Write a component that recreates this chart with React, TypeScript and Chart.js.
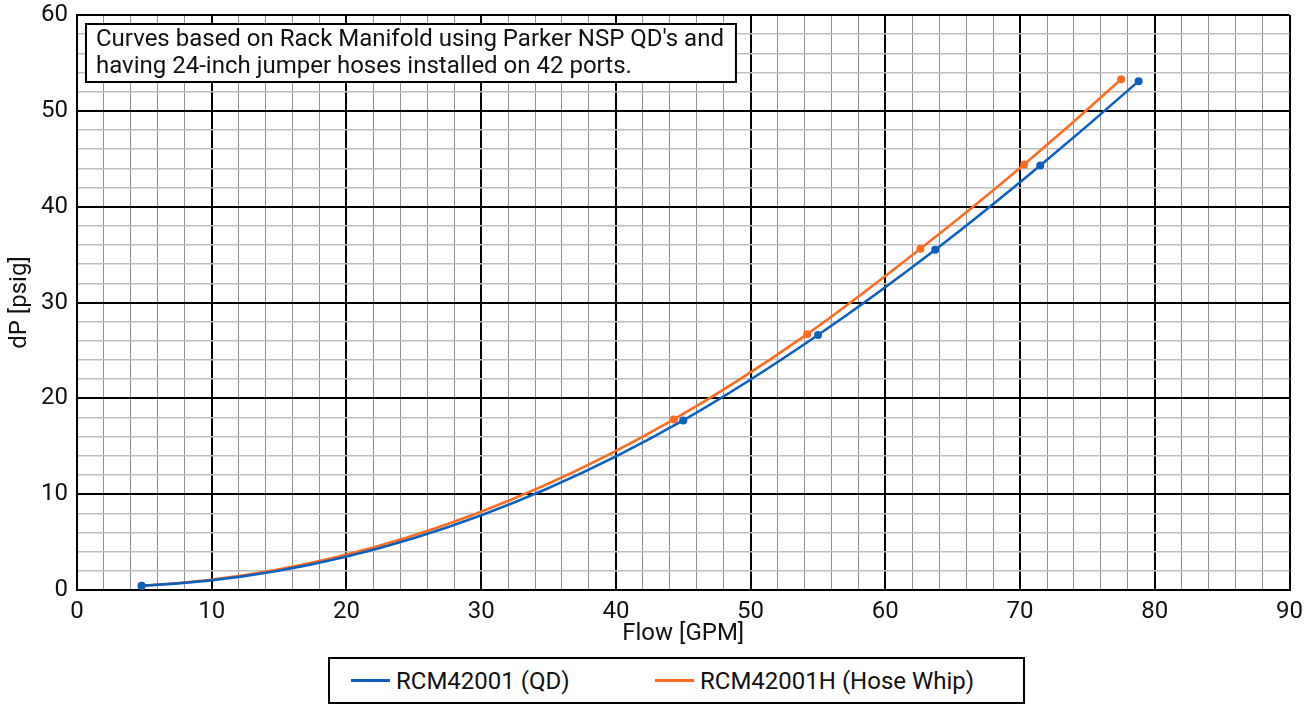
import React, { useEffect, useRef } from "react";
import { Chart, registerables } from "chart.js";

Chart.register(...registerables);

// ---- data ----
const qdFlow = [4.8, 45.0, 55.0, 63.7, 71.5, 78.8];
const qdDp = [0.45, 17.7, 26.6, 35.5, 44.3, 53.1];
const hwFlow = [4.8, 44.3, 54.2, 62.6, 70.3, 77.5];
const hwDp = [0.45, 17.8, 26.7, 35.6, 44.4, 53.3];

const seriesLabels = ["RCM42001 (QD)", "RCM42001H (Hose Whip)"];
const seriesColors = ["#0B5FBF", "#FF6B1F"];

const noteLines = [
  "Curves based on Rack Manifold using Parker NSP QD's and",
  "having 24-inch jumper hoses installed on 42 ports.",
];

const xTitle = "Flow [GPM]";
const yTitle = "dP [psig]";
const xMin = 0, xMax = 90, yMin = 0, yMax = 60;
const minorStep = 2, majorStep = 10;

const FONT = "Roboto";
const FS = 24;

// tangents for a smooth curve through the read points (3-point parabolic estimates)
function tangents(xs: number[], ys: number[]): number[] {
  const n = xs.length;
  const h: number[] = [];
  const d: number[] = [];
  for (let i = 0; i < n - 1; i++) {
    h.push(xs[i + 1] - xs[i]);
    d.push((ys[i + 1] - ys[i]) / h[i]);
  }
  const m: number[] = new Array(n).fill(0);
  if (n === 2) return [d[0], d[0]];
  for (let i = 1; i < n - 1; i++) {
    m[i] = (h[i] * d[i - 1] + h[i - 1] * d[i]) / (h[i - 1] + h[i]);
  }
  m[0] = d[0] - (h[0] * (d[1] - d[0])) / (h[0] + h[1]);
  const k = n - 2;
  m[n - 1] = d[k] + (h[k] * (d[k] - d[k - 1])) / (h[k - 1] + h[k]);
  return m;
}

const smoothPlugin = {
  id: "smoothCurve",
  beforeDatasetDraw(chart: any, args: any) {
    const meta = args.meta;
    const line = meta.dataset;
    if (!line) return;
    const ds = chart.data.datasets[args.index];
    const xs = ds.data.map((p: any) => p.x);
    const ys = ds.data.map((p: any) => p.y);
    const m = tangents(xs, ys);
    const xS = chart.scales.x;
    const yS = chart.scales.y;
    const pts = meta.data;
    const n = xs.length;
    for (let i = 0; i < n; i++) {
      const p = pts[i];
      if (i > 0) {
        const hh = xs[i] - xs[i - 1];
        p.cp1x = xS.getPixelForValue(xs[i] - hh / 3);
        p.cp1y = yS.getPixelForValue(ys[i] - (m[i] * hh) / 3);
      } else {
        p.cp1x = p.x;
        p.cp1y = p.y;
      }
      if (i < n - 1) {
        const hh = xs[i + 1] - xs[i];
        p.cp2x = xS.getPixelForValue(xs[i] + hh / 3);
        p.cp2y = yS.getPixelForValue(ys[i] + (m[i] * hh) / 3);
      } else {
        p.cp2x = p.x;
        p.cp2y = p.y;
      }
    }
    line._pointsUpdated = true;
  },
};

const notePlugin = {
  id: "noteBox",
  afterDraw(chart: any) {
    const { ctx, chartArea } = chart;
    ctx.save();
    ctx.font = `${FS}px ${FONT}`;
    const padL = 10, padR = 12;
    const lineH = 27;
    let w = 0;
    noteLines.forEach((l) => (w = Math.max(w, ctx.measureText(l).width)));
    const left = chartArea.left + 9;
    const top = chartArea.top + 9;
    const bw = w + padL + padR;
    const bh = 58;
    ctx.fillStyle = "#ffffff";
    ctx.fillRect(left, top, bw, bh);
    ctx.lineWidth = 2;
    ctx.strokeStyle = "#000000";
    ctx.strokeRect(left, top, bw, bh);
    ctx.fillStyle = "#111111";
    ctx.textBaseline = "middle";
    ctx.textAlign = "left";
    noteLines.forEach((l, i) => {
      ctx.fillText(l, left + padL, top + 16 + i * lineH);
    });
    ctx.restore();
  },
};

export default function App() {
  const ref = useRef<HTMLCanvasElement | null>(null);

  useEffect(() => {
    document.body.style.margin = "0";
    const canvas = ref.current;
    if (!canvas) return;
    const isMajor = (ctx: any) => {
      const v = ctx.tick ? ctx.tick.value : 0;
      return Math.abs(v % majorStep) < 1e-6;
    };
    const tickCb = (v: any) => (Math.abs(Number(v) % majorStep) < 1e-6 ? String(v) : "");

    const chart = new Chart(canvas, {
      type: "line",
      data: {
        datasets: [
          {
            label: seriesLabels[0],
            data: qdFlow.map((x, i) => ({ x, y: qdDp[i] })),
            borderColor: seriesColors[0],
            backgroundColor: seriesColors[0],
            borderWidth: 2.5,
            pointRadius: 4,
            pointBorderWidth: 0,
            tension: 0.4,
          },
          {
            label: seriesLabels[1],
            data: hwFlow.map((x, i) => ({ x, y: hwDp[i] })),
            borderColor: seriesColors[1],
            backgroundColor: seriesColors[1],
            borderWidth: 2.5,
            pointRadius: 4,
            pointBorderWidth: 0,
            tension: 0.4,
          },
        ],
      },
      options: {
        animation: false,
        responsive: false,
        maintainAspectRatio: false,
        devicePixelRatio: 1,
        layout: { padding: { top: 10, right: 21, bottom: 6, left: 8 } },
        plugins: {
          legend: { display: false },
          tooltip: { enabled: false },
        },
        scales: {
          x: {
            type: "linear",
            min: xMin,
            max: xMax,
            ticks: {
              stepSize: minorStep,
              autoSkip: false,
              maxRotation: 0,
              padding: 10,
              color: "#111111",
              font: { family: FONT, size: FS, lineHeight: 1 },
              callback: tickCb,
            },
            grid: {
              color: (c: any) => (isMajor(c) ? "#000000" : "#8f8f8f"),
              lineWidth: (c: any) => (isMajor(c) ? 2 : 1),
              drawTicks: false,
            },
            border: { color: "#000000", width: 2 },
            title: {
              display: true,
              text: xTitle,
              color: "#111111",
              font: { family: FONT, size: FS, lineHeight: 1 },
              padding: { top: -12, bottom: 2 },
            },
          },
          y: {
            type: "linear",
            min: yMin,
            max: yMax,
            ticks: {
              stepSize: minorStep,
              autoSkip: false,
              padding: 9,
              color: "#111111",
              font: { family: FONT, size: FS, lineHeight: 0.5 },
              callback: tickCb,
            },
            grid: {
              color: (c: any) => (isMajor(c) ? "#000000" : "#bdbdbd"),
              lineWidth: (c: any) => (isMajor(c) ? 2 : 1.5),
              drawTicks: false,
            },
            border: { color: "#000000", width: 2 },
            title: {
              display: true,
              text: yTitle,
              color: "#111111",
              font: { family: FONT, size: FS, lineHeight: 1 },
              padding: { top: 0, bottom: 0 },
            },
          },
        },
      },
      plugins: [smoothPlugin, notePlugin],
    } as any);
    return () => chart.destroy();
  }, []);

  const legendItem = (i: number, left: number) => (
    <div
      key={i}
      style={{
        position: "absolute",
        left,
        top: 0,
        height: "100%",
        display: "flex",
        alignItems: "center",
      }}
    >
      <div style={{ width: 39, height: 2.5, background: seriesColors[i], marginRight: 6 }} />
      <span style={{ fontFamily: FONT, fontSize: FS, color: "#111111", whiteSpace: "nowrap", lineHeight: 1 }}>
        {seriesLabels[i]}
      </span>
    </div>
  );

  return (
    <div style={{ position: "relative", width: 1313, height: 705, background: "#ffffff" }}>
      <canvas ref={ref} width={1313} height={654} style={{ position: "absolute", left: 0, top: 0, width: 1313, height: 654 }} />
      <div
        style={{
          position: "absolute",
          left: 328,
          top: 657,
          width: 697,
          height: 47,
          boxSizing: "border-box",
          border: "2px solid #000000",
          background: "#ffffff",
        }}
      >
        {legendItem(0, 21)}
        {legendItem(1, 325)}
      </div>
    </div>
  );
}
